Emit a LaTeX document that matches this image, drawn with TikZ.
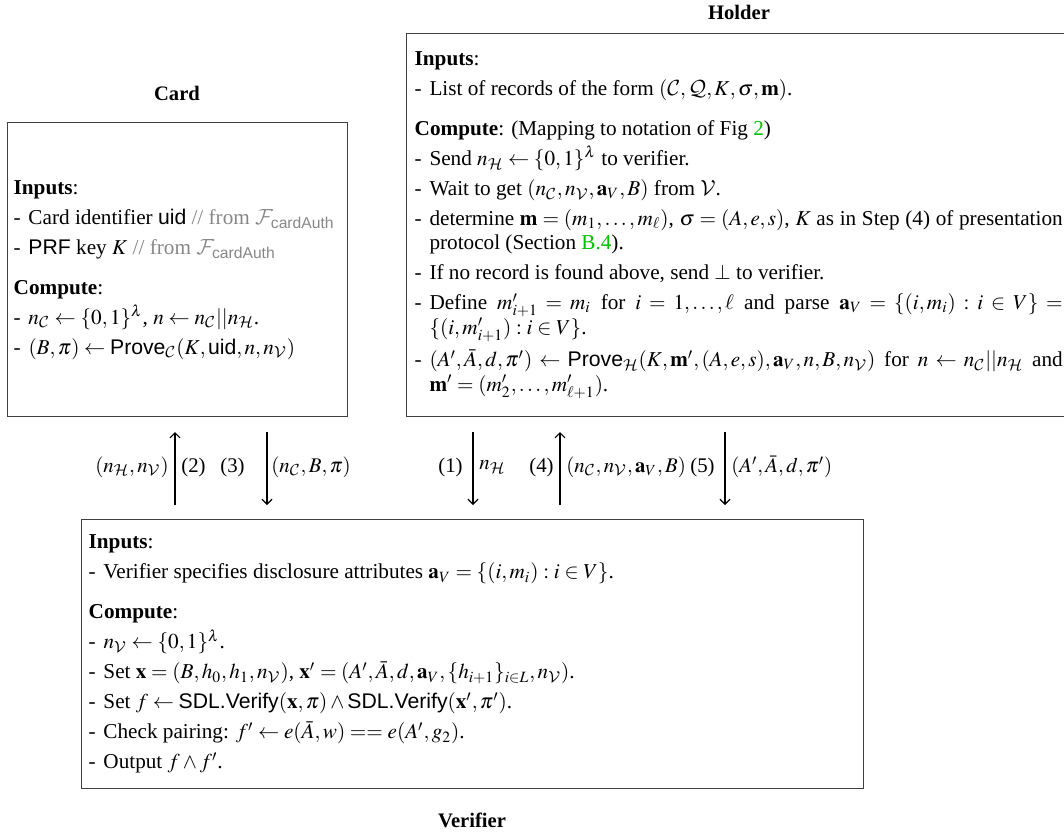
\documentclass[tikz,border=0pt]{standalone}
\usepackage{amsmath}
\usepackage{mathptmx}
\DeclareMathAlphabet{\mathcal}{OMS}{cmsy}{m}{n}
\usepackage[no-math]{fontspec}
\setmainfont{Liberation Serif}
\setsansfont{Liberation Sans}
\usetikzlibrary{arrows.meta}
\definecolor{linkgreen}{RGB}{0,190,0}
\definecolor{cmtgray}{RGB}{135,135,135}
\newlength{\hangw}
\setlength{\hangw}{7.4pt}
\newcommand{\itm}[1]{\par\noindent\hangindent=\hangw\hangafter=1\makebox[\hangw][l]{-}#1\par}
\newcommand{\hdg}[1]{\par\vspace{5pt}\noindent\textbf{#1}}
\newcommand{\cH}{\mathcal{H}}
\newcommand{\cC}{\mathcal{C}}
\newcommand{\cV}{\mathcal{V}}
\hyphenpenalty=10000
\exhyphenpenalty=10000
\begin{document}
\begin{tikzpicture}[x=0.5pt,y=-0.5pt,
  box/.style={draw=black!75, line width=0.7pt, align=justify, inner ysep=4pt,
    font=\fontsize{10.6}{12.2}\selectfont,
    execute at begin node={\setlength{\parskip}{2.8pt}}},
  lbl/.style={font=\fontsize{10.3}{12}\selectfont\bfseries},
  albl/.style={font=\fontsize{10.4}{12}\selectfont, inner sep=3pt},
  arr/.style={line width=0.9pt, -{Straight Barb[length=2.5pt,width=5pt,line width=0.6pt]}}]
\useasboundingbox (0,0) rectangle (1064,832);

% Holder
\node[box, anchor=north west, text width=324pt, inner xsep=4pt, minimum height=191.5pt] (holder) at (406,33) {%
\noindent\textbf{Inputs}:
\itm{List of records of the form $(\cC,\mathcal{Q},K,\sigma,\mathbf{m})$.}
\hdg{Compute}: (Mapping to notation of Fig~\textcolor{linkgreen}{2})
\itm{Send $n_{\cH}\leftarrow\{0,1\}^{\lambda}$ to verifier.}
\itm{Wait to get $(n_{\cC},n_{\cV},\mathbf{a}_V,B)$ from $\cV$.}
\itm{determine $\mathbf{m}=(m_1,\ldots,m_\ell)$, $\sigma=(A,e,s)$, $K$ as in Step (4) of presentation protocol (Section~\textcolor{linkgreen}{B.4}).}
\itm{If no record is found above, send $\perp$ to verifier.}
\itm{Define $m'_{i+1} = m_i$ for $i = 1,\ldots,\ell$ and parse $\mathbf{a}_V = \{(i,m_i) : i \in V\} =$\linebreak$\{(i,m'_{i+1}) : i\in V\}$.}
\itm{$(A',\bar{A},d,\pi') \leftarrow \textsf{Prove}_{\cH}(K,\mathbf{m}',(A,e,s),\mathbf{a}_V,n,B,n_{\cV})$ for $n\leftarrow n_{\cC}||n_{\cH}$ and\linebreak $\mathbf{m}'=(m'_2,\ldots,m'_{\ell+1})$.}
};
\node[lbl] (holderlbl) at (739,12) {Holder};

% Card
\node[lbl] (cardlbl) at (177,93) {Card};
\node[box, anchor=north west, text width=164pt, inner xsep=3pt, minimum height=147pt] (card) at (7,122) {%
\noindent\textbf{Inputs}:
\itm{Card identifier \textsf{uid} {\color{cmtgray}// from $\mathcal{F}_{\textsf{cardAuth}}$}}
\itm{\textsf{PRF} key $K$ {\color{cmtgray}// from $\mathcal{F}_{\textsf{cardAuth}}$}}
\hdg{Compute}:
\itm{$n_{\cC} \leftarrow \{0,1\}^{\lambda}$, $n \leftarrow n_{\cC}||n_{\cH}$.}
\itm{$(B,\pi) \leftarrow \textsf{Prove}_{\cC}(K,\textsf{uid},n,n_{\cV})$}
};

% Verifier
\node[box, anchor=north west, text width=384pt, inner xsep=3.5pt, minimum height=134.5pt] (ver) at (81,519) {%
\noindent\textbf{Inputs}:
\itm{Verifier specifies disclosure attributes $\mathbf{a}_V = \{(i,m_i) : i\in V\}$.}
\hdg{Compute}:
\itm{$n_{\cV} \leftarrow \{0,1\}^{\lambda}$.}
\itm{Set $\mathbf{x} = (B,h_0,h_1,n_{\cV})$, $\mathbf{x}' = (A',\bar{A},d,\mathbf{a}_V,\{h_{i+1}\}_{i\in L},n_{\cV})$.}
\itm{Set $f \leftarrow \textsf{SDL.Verify}(\mathbf{x},\pi) \wedge \textsf{SDL.Verify}(\mathbf{x}',\pi')$.}
\itm{Check pairing: $f' \leftarrow e(\bar{A},w) == e(A',g_2)$.}
\itm{Output $f \wedge f'$.}
};
\node[lbl] (verlbl) at (472,820) {Verifier};

% arrow end points
\coordinate (a2t) at (175,432); \coordinate (a2b) at (175,505); \coordinate (a2m) at (175,467);
\coordinate (a3t) at (267,432); \coordinate (a3b) at (267,505); \coordinate (a3m) at (267,467);
\coordinate (a1t) at (473,432); \coordinate (a1b) at (473,505); \coordinate (a1m) at (473,467);
\coordinate (a4t) at (560,432); \coordinate (a4b) at (560,505); \coordinate (a4m) at (560,467);
\coordinate (a5t) at (725,432); \coordinate (a5b) at (725,505); \coordinate (a5m) at (725,467);

\draw[arr] (a2b) -- (a2t);
\draw[arr] (a3t) -- (a3b);
\draw[arr] (a1t) -- (a1b);
\draw[arr] (a4b) -- (a4t);
\draw[arr] (a5t) -- (a5b);

\node[albl, anchor=east] (l2a) at (a2m) {$(n_{\cH},n_{\cV})$};
\node[albl, anchor=west] (l2b) at (a2m) {(2)};
\node[albl, anchor=east, xshift=-8pt] (l3a) at (a3m) {(3)};
\node[albl, anchor=west, xshift=-1pt] (l3b) at (a3m) {$(n_{\cC},B,\pi)$};
\node[albl, anchor=east, xshift=-2pt] (l1a) at (a1m) {(1)};
\node[albl, anchor=west] (l1b) at (a1m) {$n_{\cH}$};
\node[albl, anchor=east] (l4a) at (a4m) {(4)};
\node[albl, anchor=west] (l4b) at (a4m) {$(n_{\cC},n_{\cV},\mathbf{a}_V,B)$};
\node[albl, anchor=east, xshift=-2pt] (l5a) at (a5m) {(5)};
\node[albl, anchor=west] (l5b) at (a5m) {$(A',\bar{A},d,\pi')$};
\end{tikzpicture}
\end{document}
